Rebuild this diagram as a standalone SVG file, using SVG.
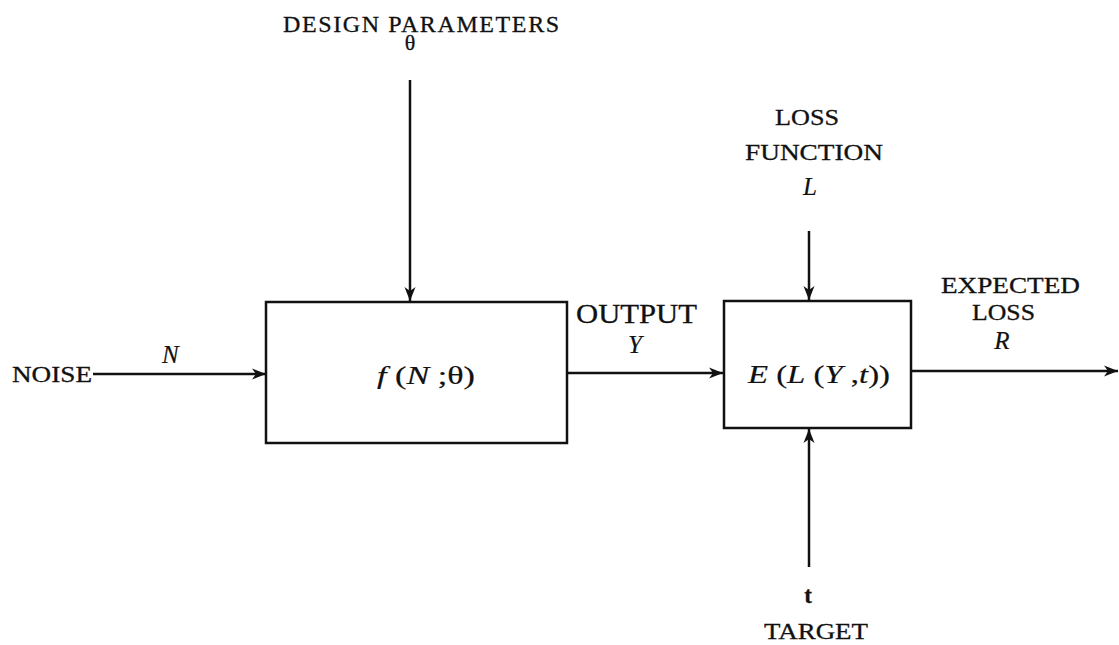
<svg xmlns="http://www.w3.org/2000/svg" width="1119" height="645" viewBox="0 0 1119 645">
  <style>
    .lbl { font-family: "Liberation Serif", "Times New Roman", serif; font-size: 23px; fill: #111; stroke: #111; stroke-width: 0.3; }
    .out { font-family: "Liberation Serif", "Times New Roman", serif; font-size: 28px; fill: #111; stroke: #111; stroke-width: 0.3; }
    .math { font-family: "Liberation Serif", "Times New Roman", serif; font-size: 25px; fill: #111; stroke: #111; stroke-width: 0.2; }
    .it { font-style: italic; }
    .dp { font-size: 24px; letter-spacing: 1.6px; }
    .theta { font-size: 22px; letter-spacing: 0; }
    .box { fill: none; stroke: #111; stroke-width: 2.5; }
    .wire { fill: none; stroke: #111; stroke-width: 2.5; marker-end: url(#arr); }
  </style>
  <defs>
    <marker id="arr" markerUnits="userSpaceOnUse" markerWidth="16" markerHeight="12" refX="14" refY="6" orient="auto">
      <path d="M0,0.5 L14,6 L0,11.5 L4,6 z" fill="#111"/>
    </marker>
  </defs>
  <rect width="1119" height="645" fill="#fff"/>

  <g id="connectors">
    <line class="wire" x1="410" y1="80" x2="410" y2="301"/>
    <line class="wire" x1="93" y1="374" x2="266" y2="374"/>
    <line class="wire" x1="567" y1="373" x2="723" y2="373"/>
    <line class="wire" x1="809" y1="231" x2="809" y2="300"/>
    <line class="wire" x1="809" y1="567" x2="809" y2="429"/>
    <line class="wire" x1="911" y1="371" x2="1118" y2="371"/>
  </g>

  <g id="design-params">
    <text class="lbl"><tspan class="dp" x="283" y="32">DESIGN PARAMETERS</tspan><tspan class="theta" x="410" y="50" text-anchor="middle">θ</tspan></text>
  </g>

  <g id="noise">
    <text class="lbl" x="12" y="382" textLength="80" lengthAdjust="spacingAndGlyphs">NOISE</text>
    <text class="math it" x="162" y="363">N</text>
  </g>

  <g id="system">
    <rect class="box" x="266" y="302" width="301" height="141"/>
    <text class="math" x="377" y="384" textLength="98" lengthAdjust="spacingAndGlyphs"><tspan class="it">f</tspan> (<tspan class="it">N</tspan> ;θ)</text>
  </g>

  <g id="output">
    <text class="out" x="576" y="323" textLength="121" lengthAdjust="spacingAndGlyphs">OUTPUT</text>
    <text class="math it" x="635" y="353" text-anchor="middle">Y</text>
  </g>

  <g id="loss-function">
    <text class="lbl" x="775" y="125" textLength="64" lengthAdjust="spacingAndGlyphs">LOSS</text>
    <text class="lbl" x="745" y="160" textLength="138" lengthAdjust="spacingAndGlyphs">FUNCTION</text>
    <text class="math it" x="810" y="195" text-anchor="middle">L</text>
  </g>

  <g id="expectation">
    <rect class="box" x="724" y="301" width="187" height="127"/>
    <text class="math" x="748" y="383" textLength="142" lengthAdjust="spacingAndGlyphs"><tspan class="it">E</tspan> (<tspan class="it">L</tspan> (<tspan class="it">Y</tspan> ,<tspan class="it">t</tspan>))</text>
  </g>

  <g id="expected-loss">
    <text class="lbl" x="941" y="293" textLength="139" lengthAdjust="spacingAndGlyphs">EXPECTED</text>
    <text class="lbl" x="972" y="320" textLength="63" lengthAdjust="spacingAndGlyphs">LOSS</text>
    <text class="math it" x="1002" y="349" text-anchor="middle">R</text>
  </g>

  <g id="target">
    <text class="lbl" x="808" y="603" text-anchor="middle" font-weight="bold">t</text>
    <text class="lbl" x="764" y="639" textLength="104" lengthAdjust="spacingAndGlyphs">TARGET</text>
  </g>
</svg>
